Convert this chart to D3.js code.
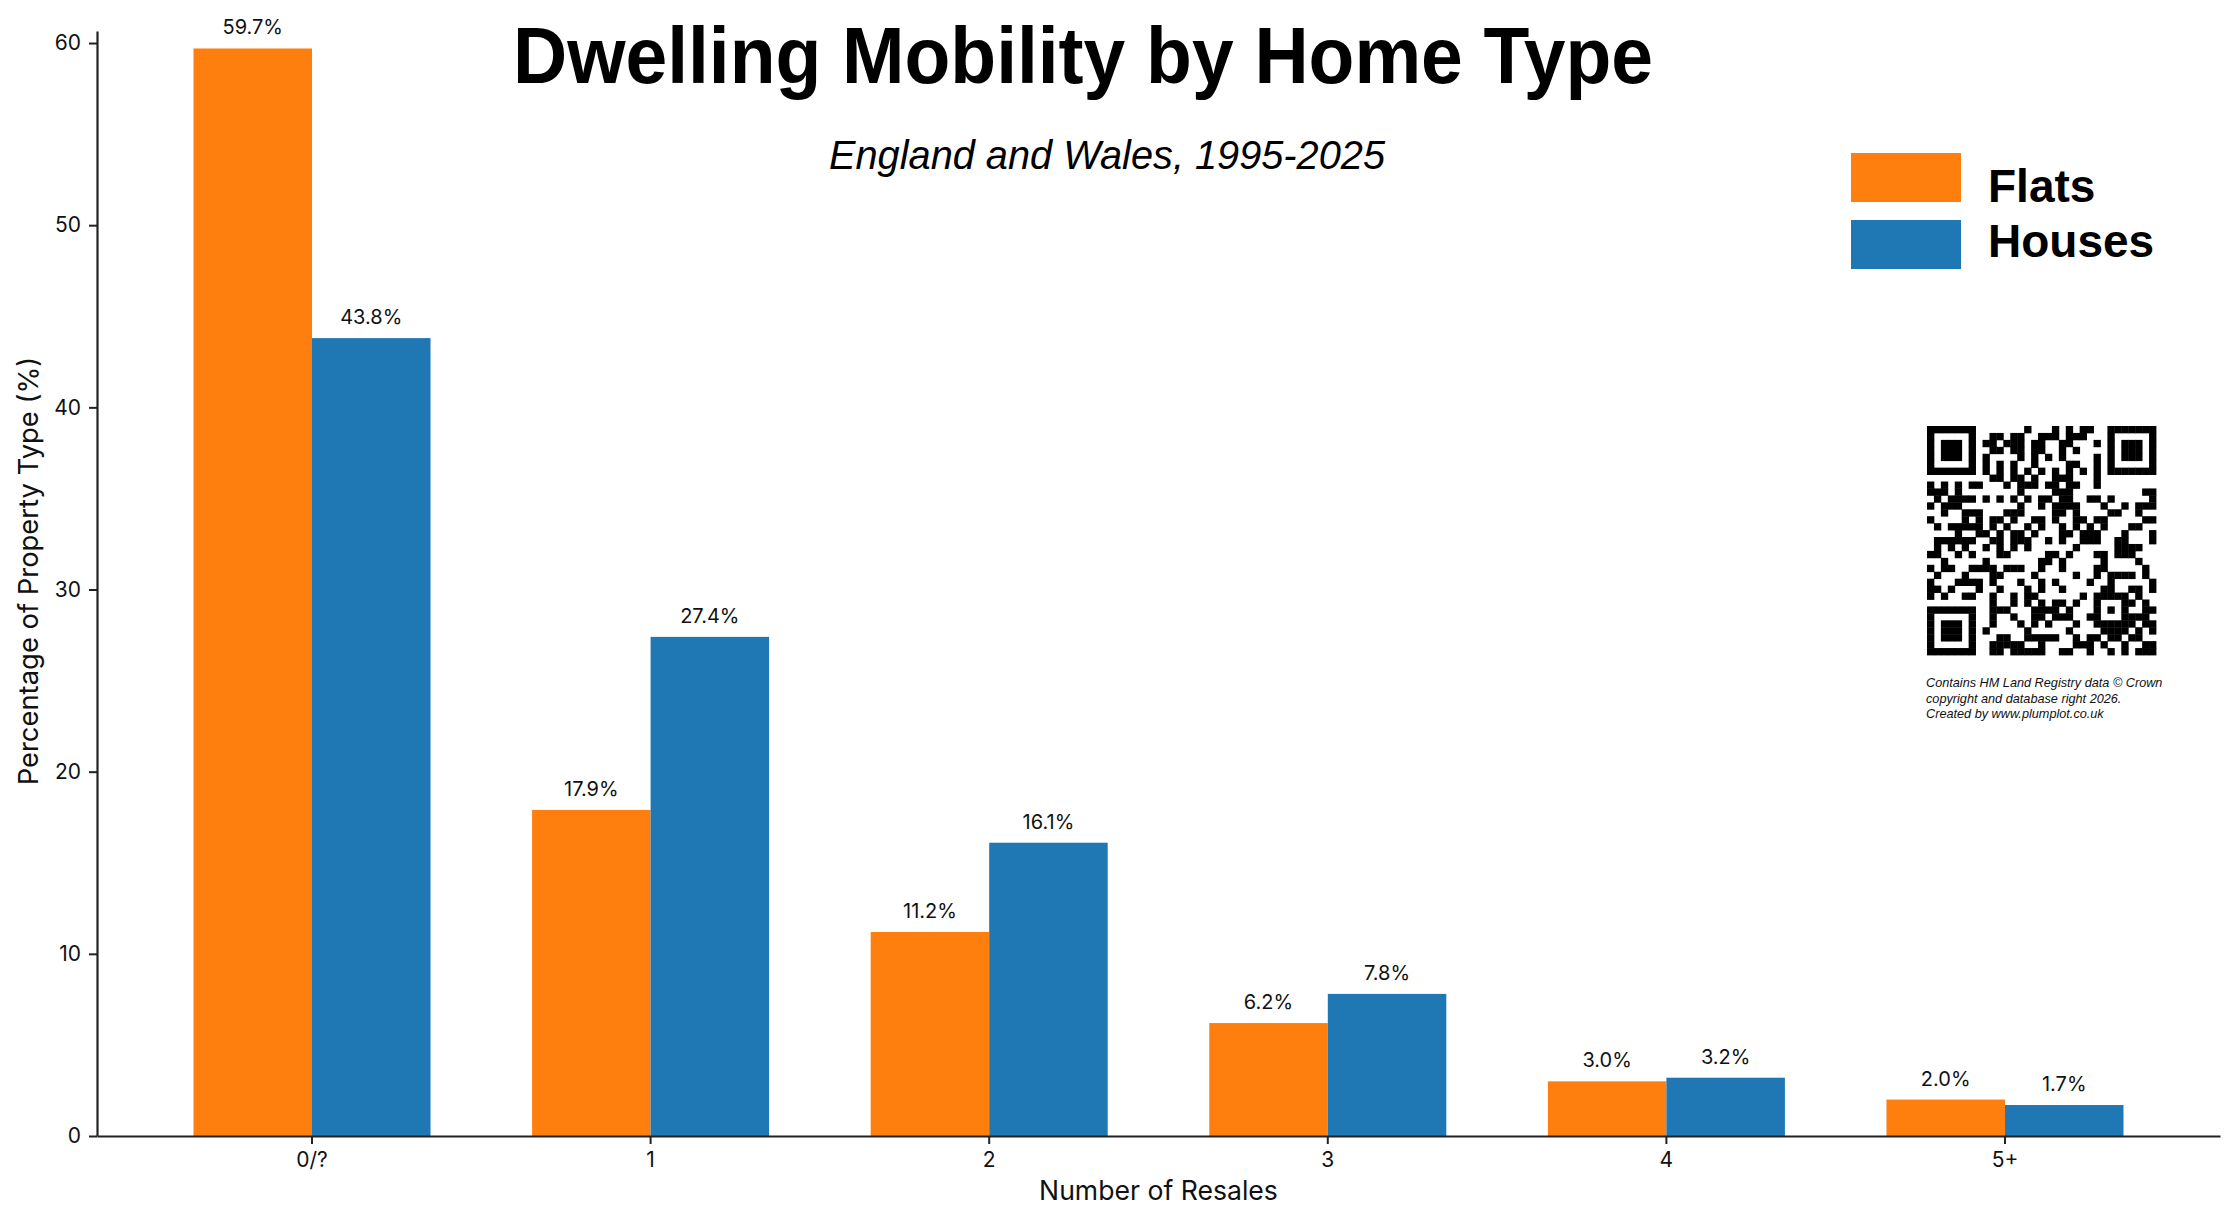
<!DOCTYPE html>
<html>
<head>
<meta charset="utf-8">
<script src="https://cdn.jsdelivr.net/npm/d3@7"></script>
<style>
  body { margin: 0; background: #fff; }
  svg { display: block; }
</style>
</head>
<body>
<svg id="chart"></svg>
<script>
// data
const categories = ["0/?", "1", "2", "3", "4", "5+"];
const seriesNames = ["Flats", "Houses"];
const flats = [59.7, 17.9, 11.2, 6.2, 3.0, 2.0];
const houses = [43.8, 27.4, 16.1, 7.8, 3.2, 1.7];
const yTicks = [0, 10, 20, 30, 40, 50, 60];
const credits = [
  "Contains HM Land Registry data \u00a9 Crown",
  "copyright and database right 2026.",
  "Created by www.plumplot.co.uk"
];

const W = 2234, H = 1220;
const margin = { top: 31, right: 14, bottom: 84, left: 97 };
const colors = { Flats: "#ff7f0e", Houses: "#1f77b4" };
const tickFont = "Inter, 'Noto Sans', sans-serif";
const titleFont = "'Liberation Sans', Arial, sans-serif";

const svg = d3.select("#chart").attr("width", W).attr("height", H);

const x = d3.scaleBand()
  .domain(categories)
  .range([margin.left, W - margin.right])
  .paddingInner(0.3)
  .paddingOuter(0.285);

const xSub = d3.scaleBand()
  .domain(seriesNames)
  .range([0, x.bandwidth()]);

const y = d3.scaleLinear()
  .domain([0, 60.66])
  .range([H - margin.bottom, margin.top]);

const rows = categories.map((c, i) => ({ cat: c, Flats: flats[i], Houses: houses[i] }));

// bars
const groups = svg.append("g").selectAll("g")
  .data(rows)
  .join("g")
  .attr("transform", d => `translate(${x(d.cat)},0)`);

groups.selectAll("rect")
  .data(d => seriesNames.map(s => ({ s, v: d[s] })))
  .join("rect")
  .attr("x", d => xSub(d.s))
  .attr("y", d => y(d.v))
  .attr("width", xSub.bandwidth())
  .attr("height", d => y(0) - y(d.v))
  .attr("fill", d => colors[d.s]);

groups.selectAll("text")
  .data(d => seriesNames.map(s => ({ s, v: d[s] })))
  .join("text")
  .attr("x", d => xSub(d.s) + xSub.bandwidth() / 2)
  .attr("y", d => y(d.v) - 14)
  .attr("text-anchor", "middle")
  .style("font-family", tickFont)
  .style("font-size", "20px")
  .style("fill", "#111")
  .text(d => d.v.toFixed(1) + "%");

// axes
const xAxis = svg.append("g")
  .attr("transform", `translate(0,${y(0)})`)
  .call(d3.axisBottom(x).tickSize(8).tickPadding(8).tickSizeOuter(0));
const yAxis = svg.append("g")
  .attr("transform", `translate(${margin.left},0)`)
  .call(d3.axisLeft(y).tickValues(yTicks).tickSize(8).tickPadding(8).tickSizeOuter(0));

[xAxis, yAxis].forEach(a => {
  a.select(".domain").attr("stroke", "#222").attr("stroke-width", 2.2);
  a.selectAll(".tick line").attr("stroke", "#222").attr("stroke-width", 2);
  a.selectAll(".tick text")
    .style("font-family", tickFont)
    .style("font-size", "21px")
    .style("fill", "#111");
});

svg.append("text")
  .attr("x", (margin.left + W - margin.right) / 2)
  .attr("y", 1200)
  .attr("text-anchor", "middle")
  .style("font-family", tickFont)
  .style("font-size", "26.6px")
  .style("fill", "#111")
  .text("Number of Resales");

svg.append("text")
  .attr("transform", "translate(38,571) rotate(-90)")
  .attr("text-anchor", "middle")
  .style("font-family", tickFont)
  .style("font-size", "27.4px")
  .style("fill", "#111")
  .text("Percentage of Property Type (%)");

// titles
svg.append("text")
  .attr("x", 1083)
  .attr("y", 83)
  .attr("text-anchor", "middle")
  .attr("textLength", 1140)
  .attr("lengthAdjust", "spacingAndGlyphs")
  .style("font-family", titleFont)
  .style("font-weight", "bold")
  .style("font-size", "80px")
  .text("Dwelling Mobility by Home Type");

svg.append("text")
  .attr("x", 1107)
  .attr("y", 169)
  .attr("text-anchor", "middle")
  .attr("textLength", 556)
  .attr("lengthAdjust", "spacingAndGlyphs")
  .style("font-family", titleFont)
  .style("font-style", "italic")
  .style("font-size", "41px")
  .text("England and Wales, 1995-2025");

// legend
const legend = svg.append("g").attr("transform", "translate(1851,153)");
legend.selectAll("rect")
  .data(seriesNames)
  .join("rect")
  .attr("x", 0)
  .attr("y", (d, i) => i * 67)
  .attr("width", 110)
  .attr("height", 49)
  .attr("fill", d => colors[d]);
legend.selectAll("text")
  .data(seriesNames)
  .join("text")
  .attr("x", 137)
  .attr("y", (d, i) => 49 + i * 55)
  .style("font-family", titleFont)
  .style("font-weight", "bold")
  .style("font-size", "46px")
  .text(d => d);

// QR-style badge (decorative)
const qrN = 33, qrX = 1927, qrY = 426, qrM = 229 / qrN;
const qr = svg.append("g").attr("transform", `translate(${qrX},${qrY})`);
function inFinder(r, c) {
  const spots = [[0, 0], [0, qrN - 7], [qrN - 7, 0]];
  for (const [fr, fc] of spots) {
    if (r >= fr - 1 && r <= fr + 7 && c >= fc - 1 && c <= fc + 7) {
      const rr = r - fr, cc = c - fc;
      if (rr < 0 || rr > 6 || cc < 0 || cc > 6) return 0;
      if (rr === 0 || rr === 6 || cc === 0 || cc === 6) return 1;
      if (rr >= 2 && rr <= 4 && cc >= 2 && cc <= 4) return 1;
      return 0;
    }
  }
  return -1;
}
const cells = [];
for (let r = 0; r < qrN; r++) {
  for (let c = 0; c < qrN; c++) {
    let on = inFinder(r, c);
    if (on === -1) {
      const ar = r - 26, ac = c - 26;
      if (Math.abs(ar) <= 2 && Math.abs(ac) <= 2) {
        on = (Math.max(Math.abs(ar), Math.abs(ac)) !== 1) ? 1 : 0;
      } else if (r === 6) {
        on = c % 2 === 0 ? 1 : 0;
      } else if (c === 6) {
        on = r % 2 === 0 ? 1 : 0;
      } else {
        const h = ((r * 31 + c * 17) ^ (r * c * 7) ^ (c * 13 + 5)) % 7;
        on = h < 3 ? 1 : 0;
      }
    }
    if (on) cells.push([r, c]);
  }
}
qr.selectAll("rect")
  .data(cells)
  .join("rect")
  .attr("x", d => d[1] * qrM)
  .attr("y", d => d[0] * qrM)
  .attr("width", qrM + 0.4)
  .attr("height", qrM + 0.4)
  .attr("fill", "#000");

svg.append("g").selectAll("text")
  .data(credits)
  .join("text")
  .attr("x", 1926)
  .attr("y", (d, i) => 687 + i * 15.5)
  .style("font-family", titleFont)
  .style("font-style", "italic")
  .style("font-size", "12.7px")
  .style("fill", "#111")
  .text(d => d);
</script>
</body>
</html>
